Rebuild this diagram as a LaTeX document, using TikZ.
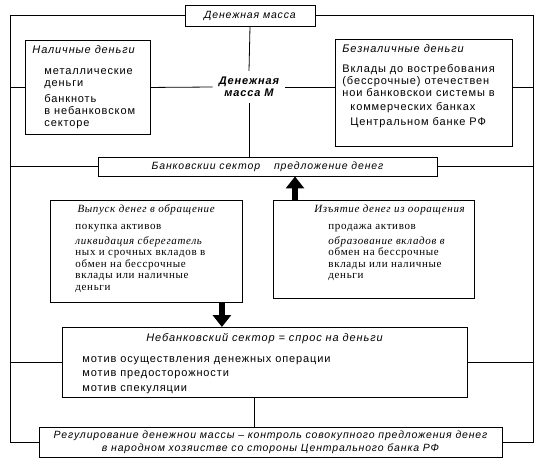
\documentclass[tikz,border=0pt]{standalone}
\usepackage{fontspec}
\setmainfont{Liberation Sans}[LetterSpace=8]
\newfontfamily\bookfont{Liberation Serif}[LetterSpace=6]
\usetikzlibrary{arrows.meta}

% box contents are top aligned
\newcommand{\panelbox}[3]{\begin{minipage}[t][#2][t]{#1}\parindent=0pt\raggedright #3\end{minipage}}

\tikzset{
  panel/.style={draw, line width=0.9pt, anchor=north west, inner sep=0pt,
    font=\fontsize{11pt}{12pt}\selectfont},
  bookpanel/.style={panel, font=\bookfont\fontsize{11pt}{11.5pt}\selectfont},
  titlebox/.style={draw, line width=0.9pt, inner sep=2pt, align=center,
    font=\itshape\fontsize{10.5pt}{13pt}\selectfont},
  wire/.style={line width=0.8pt},
  bigarrow/.style={line width=6pt, -{Triangle[width=18pt,length=12pt]}}
}

\begin{document}
\begin{tikzpicture}[x=1pt, y=-1pt]
\useasboundingbox (0,0) rectangle (540,464);
\coordinate (fL) at (10,0);
\coordinate (fR) at (533,0);

% money supply
\node[titlebox, minimum width=130pt, minimum height=21pt] (total) at (250,15.5) {Денежная масса};
\node[align=center, inner sep=6pt, font=\bfseries\itshape\fontsize{11pt}{12pt}\selectfont] (mass) at (249,87) {Денежная\\масса М};

\node[panel] (cash) at (25,40) {\panelbox{125pt}{94pt}{%
  \vspace*{5pt}\hspace*{7pt}\textit{Наличные деньги}\par
  \vspace{9pt}\leftskip=19pt
  металлические\\деньги\par
  \vspace{4pt}банкноть\\в небанковском\\секторе\par}};

\node[panel] (noncash) at (335,39) {\panelbox{177pt}{107pt}{%
  \vspace*{5pt}\hspace*{7pt}\textit{Безналичные деньги}\par
  \vspace{8pt}\leftskip=7pt
  Вклады до востребования\\(бессрочные) отечествен\\нои банковскои системы в\par
  \vspace{2pt}\leftskip=15pt коммерческих банках\par
  \vspace{3pt}Центральном банке РФ\par}};

% banks
\node[titlebox, minimum width=339pt, minimum height=19pt] (bank) at (267.5,166.5)
  {Банковскии сектор\hspace{14pt}предложение денег};

\node[bookpanel] (issue) at (50,200) {\panelbox{192pt}{102pt}{%
  \vspace*{4pt}{\centering\textit{Выпуск денег в обращение}\par}
  \vspace{6pt}\leftskip=25pt
  покупка активов\par
  \vspace{3pt}\textit{ликвидация сберегатель}\\ных и срочных вкладов в\\обмен на бессрочные\\вклады или наличные\\деньги\par}};

\node[bookpanel] (give) at (273,200) {\panelbox{201pt}{98pt}{%
  \vspace*{4pt}{\raggedleft\textit{Изъятие денег из ооращения}\hspace*{9pt}\par}
  \vspace{6pt}\leftskip=55pt
  продажа активов\par
  \vspace{3pt}\textit{образование вкладов в}\\обмен на бессрочные\\вклады или наличные\\деньги\par}};

% demand
\node[panel, font=\fontsize{11pt}{14.5pt}\selectfont] (nonbank) at (62,327) {\panelbox{405pt}{70pt}{%
  \vspace*{6pt}{\centering\textit{Небанковский сектор = спрос на деньги}\par}
  \vspace{6pt}\leftskip=20pt
  мотив осуществления денежных операции\\мотив предосторожности\\мотив спекуляции\par}};

\node[titlebox, minimum width=463pt, minimum height=30pt] (reg) at (270.5,442)
  {Регулирование денежнои массы -- контроль совокупного предложения денег\\в народном хозяистве со стороны Центрального банка РФ};

% frame
\draw[wire] (total.west) -| (reg.west -| fL) -- (reg.west);
\draw[wire] (total.east) -| (reg.east -| fR) -- (reg.east);

\draw[wire] (cash.west -| fL) -- (cash.west);
\draw[wire] (cash.east) -- (mass.west);
\draw[wire] (mass.east) -- (mass.east -| noncash.west);
\draw[wire] (mass.east -| noncash.east) -- (mass.east -| fR);
\draw[wire] (total.south) -- (mass.north);
\draw[wire] (mass.south) -- (mass.south |- bank.north);

\draw[wire] (bank.west -| fL) -- (bank.west);
\draw[wire] (bank.east) -- (bank.east -| fR);
\draw[wire] (nonbank.west -| fL) -- (nonbank.west);
\draw[wire] (nonbank.east) -- (nonbank.east -| fR);
\draw[wire] ([xshift=-11pt]nonbank.south) -- ([xshift=-11pt]nonbank.south |- reg.north);

\draw[bigarrow] ([xshift=22pt]give.north west) -- ([xshift=22pt]give.north west |- bank.south);
\draw[bigarrow] ([xshift=-21pt]issue.south east) -- ([xshift=-21pt]issue.south east |- nonbank.north);

\end{tikzpicture}
\end{document}
